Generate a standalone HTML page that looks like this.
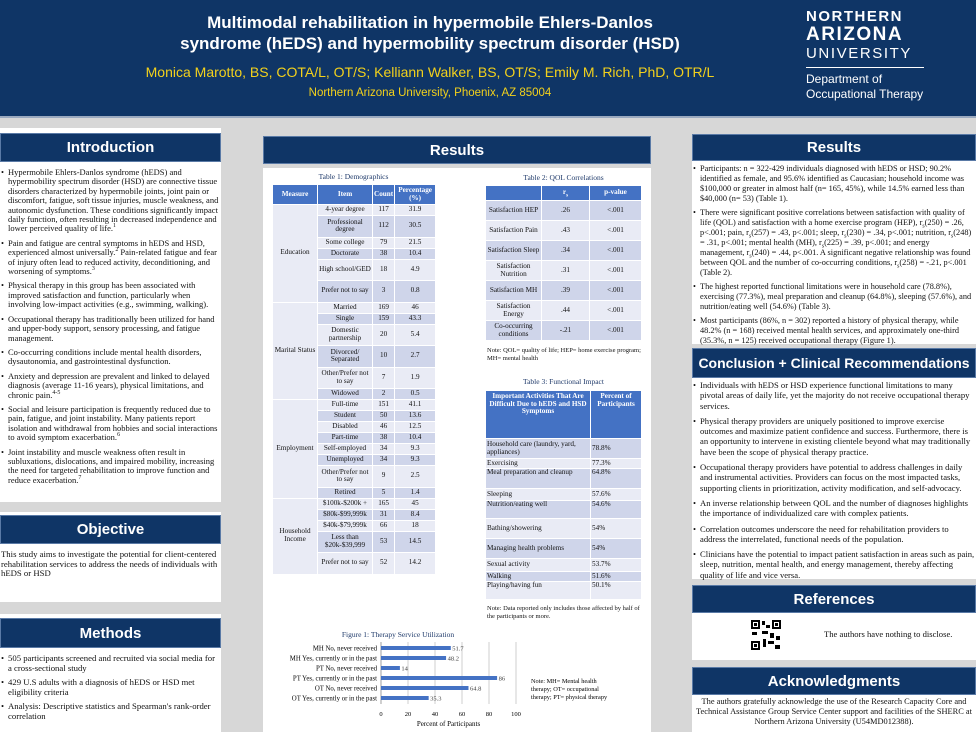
<!DOCTYPE html>
<html><head><meta charset="utf-8">
<style>
*{margin:0;padding:0;box-sizing:border-box}
body{width:976px;height:732px;overflow:hidden;background:#d7d7d7;position:relative;font-family:"Liberation Serif",serif;color:#111}
.abs{position:absolute}
.hdr{position:absolute;background:#0f3566;color:#fff;font-family:"Liberation Sans",sans-serif;font-weight:bold;font-size:15px;display:flex;align-items:center;justify-content:center;border:1px solid #5a7aa6;white-space:nowrap}
.panel{position:absolute;background:#fff}
ul{list-style:none}
li{position:relative;padding-left:7px;margin-bottom:5px}
li:before{content:"•";position:absolute;left:0;top:0}
sub,sup{line-height:0;font-size:70%}
.lt{font-size:8.5px;line-height:9.4px}
.rt{font-size:8.6px;line-height:10.3px}
table{border-collapse:collapse;font-family:"Liberation Serif",serif}
td,th{text-align:center;font-size:7.2px;line-height:7.6px;padding:0 1px;border:1px solid #fff}
th{background:#4472c4;color:#fff;font-weight:bold}
.a td{background:#e9ebf5}.b td{background:#cfd5ea}
td.m{background:#e9ebf5}
.cap{font-size:7.5px;color:#1f3a6a;text-align:center}
</style></head><body>
<div class="abs" style="left:0;top:0;width:976px;height:118px;background:#0f3566;border-bottom:2px solid #9aa9bf"></div>
<div class="abs" style="left:150px;top:12px;width:560px;text-align:center;color:#fff;font-family:'Liberation Sans',sans-serif;font-weight:bold;font-size:17px;line-height:21px">Multimodal rehabilitation in hypermobile Ehlers-Danlos<br>syndrome (hEDS) and hypermobility spectrum disorder (HSD)</div>
<div class="abs" style="left:100px;top:64px;width:660px;text-align:center;color:#f3d11c;font-family:'Liberation Sans',sans-serif;font-size:14px">Monica Marotto, BS, COTA/L, OT/S; Kelliann Walker, BS, OT/S; Emily M. Rich, PhD, OTR/L</div>
<div class="abs" style="left:150px;top:87px;width:560px;text-align:center;color:#f3d11c;font-family:'Liberation Sans',sans-serif;font-size:11.5px">Northern Arizona University, Phoenix, AZ 85004</div>
<div class="abs" style="left:806px;top:8px;width:170px;color:#fff;font-family:'Liberation Sans',sans-serif">
<div style="font-size:15px;font-weight:bold;letter-spacing:1.5px;line-height:17px">NORTHERN</div>
<div style="font-size:19px;font-weight:bold;letter-spacing:1.5px;line-height:20px">ARIZONA</div>
<div style="font-size:15px;letter-spacing:1.6px;line-height:17px">UNIVERSITY</div>
<div style="width:118px;border-top:1px solid #fff;margin:5px 0 4px"></div>
<div style="font-size:12px;line-height:15px">Department of<br>Occupational Therapy</div></div>

<!-- Left column -->
<div class="panel" style="left:0;top:128px;width:221px;height:374px"></div>
<div class="hdr" style="left:0;top:133px;width:221px;height:29px">Introduction</div>
<ul class="abs lt" style="left:1px;top:168px;width:219px">
<li>Hypermobile Ehlers-Danlos syndrome (hEDS) and hypermobility spectrum disorder (HSD) are connective tissue disorders characterized by hypermobile joints, joint pain or discomfort, fatigue, soft tissue injuries, muscle weakness, and autonomic dysfunction. These conditions significantly impact daily function, often resulting in decreased independence and lower perceived quality of life.<sup>1</sup></li>
<li>Pain and fatigue are central symptoms in hEDS and HSD, experienced almost universally.<sup>2</sup> Pain-related fatigue and fear of injury often lead to reduced activity, deconditioning, and worsening of symptoms.<sup>3</sup></li>
<li>Physical therapy in this group has been associated with improved satisfaction and function, particularly when involving low-impact activities (e.g., swimming, walking).</li>
<li>Occupational therapy has traditionally been utilized for hand and upper-body support, sensory processing, and fatigue management.</li>
<li>Co-occurring conditions include mental health disorders, dysautonomia, and gastrointestinal dysfunction.</li>
<li>Anxiety and depression are prevalent and linked to delayed diagnosis (average 11-16 years), physical limitations, and chronic pain.<sup>4-5</sup></li>
<li>Social and leisure participation is frequently reduced due to pain, fatigue, and joint instability. Many patients report isolation and withdrawal from hobbies and social interactions to avoid symptom exacerbation.<sup>6</sup></li>
<li>Joint instability and muscle weakness often result in subluxations, dislocations, and impaired mobility, increasing the need for targeted rehabilitation to improve function and reduce exacerbation.<sup>7</sup></li>
</ul>
<div class="panel" style="left:0;top:512px;width:221px;height:90px"></div>
<div class="hdr" style="left:0;top:515px;width:221px;height:29px">Objective</div>
<div class="abs lt" style="left:1px;top:550px;width:219px;font-size:8.7px;line-height:9.5px">This study aims to investigate the potential for client-centered rehabilitation services to address the needs of individuals with hEDS or HSD</div>
<div class="panel" style="left:0;top:614px;width:221px;height:118px"></div>
<div class="hdr" style="left:0;top:618px;width:221px;height:30px">Methods</div>
<ul class="abs lt" style="left:1px;top:654px;width:219px;font-size:8.7px;line-height:9.5px">
<li>505 participants screened and recruited via social media for a cross-sectional study</li>
<li>429 U.S adults with a diagnosis of hEDS or HSD met eligibility criteria</li>
<li>Analysis: Descriptive statistics and Spearman's rank-order correlation</li>
</ul>

<!-- Middle column -->
<div class="hdr" style="left:263px;top:136px;width:388px;height:28px">Results</div>
<div class="panel" style="left:263px;top:168px;width:388px;height:564px"></div>
<div class="abs cap" style="left:272px;top:172px;width:163px">Table 1: Demographics</div>
<table class="abs" style="left:272px;top:184px;width:164px">
<tr style="height:20px"><th style="width:45px">Measure</th><th style="width:55px">Item</th><th style="width:21px">Count</th><th>Percentage (%)</th></tr>
<tr class="a" style="height:11px"><td class="m" rowspan="6">Education</td><td>4-year degree</td><td>117</td><td>31.9</td></tr>
<tr class="b" style="height:21.5px"><td>Professional degree</td><td>112</td><td>30.5</td></tr>
<tr class="a" style="height:11px"><td>Some college</td><td>79</td><td>21.5</td></tr>
<tr class="b" style="height:11px"><td>Doctorate</td><td>38</td><td>10.4</td></tr>
<tr class="a" style="height:21.5px"><td>High school/GED</td><td>18</td><td>4.9</td></tr>
<tr class="b" style="height:21.5px"><td>Prefer not to say</td><td>3</td><td>0.8</td></tr>
<tr class="a" style="height:11px"><td class="m" rowspan="6">Marital Status</td><td>Married</td><td>169</td><td>46</td></tr>
<tr class="b" style="height:11px"><td>Single</td><td>159</td><td>43.3</td></tr>
<tr class="a" style="height:21.5px"><td>Domestic partnership</td><td>20</td><td>5.4</td></tr>
<tr class="b" style="height:21.5px"><td>Divorced/ Separated</td><td>10</td><td>2.7</td></tr>
<tr class="a" style="height:21.5px"><td>Other/Prefer not to say</td><td>7</td><td>1.9</td></tr>
<tr class="b" style="height:11px"><td>Widowed</td><td>2</td><td>0.5</td></tr>
<tr class="a" style="height:11px"><td class="m" rowspan="8">Employment</td><td>Full-time</td><td>151</td><td>41.1</td></tr>
<tr class="b" style="height:11px"><td>Student</td><td>50</td><td>13.6</td></tr>
<tr class="a" style="height:11px"><td>Disabled</td><td>46</td><td>12.5</td></tr>
<tr class="b" style="height:11px"><td>Part-time</td><td>38</td><td>10.4</td></tr>
<tr class="a" style="height:11px"><td>Self-employed</td><td>34</td><td>9.3</td></tr>
<tr class="b" style="height:11px"><td>Unemployed</td><td>34</td><td>9.3</td></tr>
<tr class="a" style="height:21.5px"><td>Other/Prefer not to say</td><td>9</td><td>2.5</td></tr>
<tr class="b" style="height:11px"><td>Retired</td><td>5</td><td>1.4</td></tr>
<tr class="a" style="height:11px"><td class="m" rowspan="5">Household Income</td><td>$100k-$200k +</td><td>165</td><td>45</td></tr>
<tr class="b" style="height:11px"><td>$80k-$99,999k</td><td>31</td><td>8.4</td></tr>
<tr class="a" style="height:11px"><td>$40k-$79,999k</td><td>66</td><td>18</td></tr>
<tr class="b" style="height:21.5px"><td>Less than $20k-$39,999</td><td>53</td><td>14.5</td></tr>
<tr class="a" style="height:21.5px"><td>Prefer not to say</td><td>52</td><td>14.2</td></tr>
</table>

<div class="abs cap" style="left:485px;top:173px;width:157px">Table 2: QOL Correlations</div>
<table class="abs" style="left:485px;top:185px;width:157px">
<tr style="height:15px"><th style="width:56px"></th><th style="width:48px">r<sub>s</sub></th><th>p-value</th></tr>
<tr class="b" style="height:20px"><td>Satisfaction HEP</td><td>.26</td><td>&lt;.001</td></tr>
<tr class="a" style="height:20px"><td>Satisfaction Pain</td><td>.43</td><td>&lt;.001</td></tr>
<tr class="b" style="height:20px"><td>Satisfaction Sleep</td><td>.34</td><td>&lt;.001</td></tr>
<tr class="a" style="height:20px"><td>Satisfaction Nutrition</td><td>.31</td><td>&lt;.001</td></tr>
<tr class="b" style="height:20px"><td>Satisfaction MH</td><td>.39</td><td>&lt;.001</td></tr>
<tr class="a" style="height:20px"><td>Satisfaction Energy</td><td>.44</td><td>&lt;.001</td></tr>
<tr class="b" style="height:20px"><td>Co-occurring conditions</td><td>-.21</td><td>&lt;.001</td></tr>
</table>
<div class="abs" style="left:487px;top:347px;width:160px;font-size:6.5px;line-height:8px">Note: QOL= quality of life; HEP= home exercise program; MH= mental health</div>

<div class="abs cap" style="left:485px;top:377px;width:157px">Table 3: Functional Impact</div>
<table class="abs" style="left:485px;top:390px;width:157px">
<tr style="height:48px"><th style="width:105px;vertical-align:top;padding-top:2px">Important Activities That Are Difficult Due to hEDS and HSD Symptoms</th><th style="vertical-align:top;padding-top:2px">Percent of Participants</th></tr>
<tr class="b" style="height:20px"><td style="text-align:left">Household care (laundry, yard, appliances)</td><td style="text-align:left">78.8%</td></tr>
<tr class="a" style="height:10px"><td style="text-align:left">Exercising</td><td style="text-align:left">77.3%</td></tr>
<tr class="b" style="height:20px"><td style="text-align:left;vertical-align:top">Meal preparation and cleanup</td><td style="text-align:left;vertical-align:top">64.8%</td></tr>
<tr class="a" style="height:12px"><td style="text-align:left">Sleeping</td><td style="text-align:left">57.6%</td></tr>
<tr class="b" style="height:18px"><td style="text-align:left;vertical-align:top">Nutrition/eating well</td><td style="text-align:left;vertical-align:top">54.6%</td></tr>
<tr class="a" style="height:20px"><td style="text-align:left">Bathing/showering</td><td style="text-align:left">54%</td></tr>
<tr class="b" style="height:20px"><td style="text-align:left">Managing health problems</td><td style="text-align:left">54%</td></tr>
<tr class="a" style="height:13px"><td style="text-align:left">Sexual activity</td><td style="text-align:left">53.7%</td></tr>
<tr class="b" style="height:10px"><td style="text-align:left">Walking</td><td style="text-align:left">51.6%</td></tr>
<tr class="a" style="height:18px"><td style="text-align:left;vertical-align:top">Playing/having fun</td><td style="text-align:left;vertical-align:top">50.1%</td></tr>
</table>
<div class="abs" style="left:487px;top:605px;width:160px;font-size:6.5px;line-height:8px">Note: Data reported only includes those affected by half of the participants or more.</div>

<svg class="abs" id="chart" style="left:263px;top:625px" width="387" height="107"></svg>

<!-- Right column -->
<div class="hdr" style="left:692px;top:134px;width:284px;height:27px">Results</div>
<div class="panel" style="left:692px;top:161px;width:284px;height:183px"></div>
<ul class="abs rt" style="left:693px;top:164px;width:282px;font-size:8.3px;line-height:10px">
<li style="margin-bottom:4px">Participants: n = 322-429 individuals diagnosed with hEDS or HSD; 90.2% identified as female, and 95.6% identified as Caucasian; household income was $100,000 or greater in almost half (n= 165, 45%), while 14.5% earned less than $40,000 (n= 53) (Table 1).</li>
<li style="margin-bottom:4px">There were significant positive correlations between satisfaction with quality of life (QOL) and satisfaction with a home exercise program (HEP), r<sub>s</sub>(250) = .26, p&lt;.001; pain, r<sub>s</sub>(257) = .43, p&lt;.001; sleep, r<sub>s</sub>(230) = .34, p&lt;.001; nutrition, r<sub>s</sub>(248) = .31, p&lt;.001; mental health (MH), r<sub>s</sub>(225) = .39, p&lt;.001; and energy management, r<sub>s</sub>(240) = .44, p&lt;.001. A significant negative relationship was found between QOL and the number of co-occurring conditions, r<sub>s</sub>(258) = -.21, p&lt;.001 (Table 2).</li>
<li style="margin-bottom:4px">The highest reported functional limitations were in household care (78.8%), exercising (77.3%), meal preparation and cleanup (64.8%), sleeping (57.6%), and nutrition/eating well (54.6%) (Table 3).</li>
<li>Most participants (86%, n = 302) reported a history of physical therapy, while 48.2% (n = 168) received mental health services, and approximately one-third (35.3%, n = 125) received occupational therapy (Figure 1).</li>
</ul>
<div class="hdr" style="left:692px;top:348px;width:284px;height:30px;font-size:14px">Conclusion + Clinical Recommendations</div>
<div class="panel" style="left:692px;top:378px;width:284px;height:201px"></div>
<ul class="abs rt" style="left:693px;top:380px;width:282px">
<li>Individuals with hEDS or HSD experience functional limitations to many pivotal areas of daily life, yet the majority do not receive occupational therapy services.</li>
<li>Physical therapy providers are uniquely positioned to improve exercise outcomes and maximize patient confidence and success. Furthermore, there is an opportunity to intervene in existing clientele beyond what may traditionally have been the scope of physical therapy practice.</li>
<li>Occupational therapy providers have potential to address challenges in daily and instrumental activities. Providers can focus on the most impacted tasks, supporting clients in prioritization, activity modification, and self-advocacy.</li>
<li>An inverse relationship between QOL and the number of diagnoses highlights the importance of individualized care with complex patients.</li>
<li>Correlation outcomes underscore the need for rehabilitation providers to address the interrelated, functional needs of the population.</li>
<li>Clinicians have the potential to impact patient satisfaction in areas such as pain, sleep, nutrition, mental health, and energy management, thereby affecting quality of life and vice versa.</li>
</ul>
<div class="hdr" style="left:692px;top:585px;width:284px;height:28px">References</div>
<div class="panel" style="left:692px;top:613px;width:284px;height:47px"></div>
<svg class="abs" style="left:750px;top:619px" width="32" height="32">
<rect width="32" height="32" fill="#fff"/>
<rect x="1" y="1" width="9" height="9" fill="#000"/><rect x="3" y="3" width="5" height="5" fill="#fff"/><rect x="4" y="4" width="3" height="3" fill="#000"/>
<rect x="22" y="1" width="9" height="9" fill="#000"/><rect x="24" y="3" width="5" height="5" fill="#fff"/><rect x="25" y="4" width="3" height="3" fill="#000"/>
<rect x="1" y="22" width="9" height="9" fill="#000"/><rect x="3" y="24" width="5" height="5" fill="#fff"/><rect x="4" y="25" width="3" height="3" fill="#000"/>
<rect x="12" y="2" width="3" height="4" fill="#000"/><rect x="16" y="6" width="4" height="3" fill="#000"/><rect x="12" y="12" width="6" height="3" fill="#000"/><rect x="20" y="14" width="4" height="5" fill="#000"/><rect x="2" y="13" width="5" height="3" fill="#000"/><rect x="13" y="20" width="3" height="8" fill="#000"/><rect x="18" y="22" width="6" height="3" fill="#000"/><rect x="25" y="26" width="5" height="4" fill="#000"/><rect x="26" y="17" width="4" height="4" fill="#000"/></svg>
<div class="abs" style="left:824px;top:629px;font-size:8.6px">The authors have nothing to disclose.</div>
<div class="hdr" style="left:692px;top:667px;width:284px;height:28px">Acknowledgments</div>
<div class="panel" style="left:692px;top:695px;width:284px;height:37px"></div>
<div class="abs" style="left:694px;top:697px;width:280px;text-align:center;font-size:8.4px;line-height:10px">The authors gratefully acknowledge the use of the Research Capacity Core and Technical Assistance Group Service Center support and facilities of the SHERC at Northern Arizona University (U54MD012388).</div>

<script>
const categories = ["MH No, never received","MH Yes, currently or in the past","PT No, never received","PT Yes, currently or in the past","OT No, never received","OT Yes, currently or in the past"];
const values = [51.7, 48.2, 14, 86, 64.8, 35.3];
const valueLabels = ["51.7","48.2","14","86","64.8","35.3"];
const xTicks = [0,20,40,60,80,100];
const svg = document.getElementById('chart');
const NS = 'http://www.w3.org/2000/svg';
const x0 = 118, x1 = 253, yTop = 17, rowH = 10;
const xs = v => x0 + (v / 100) * (x1 - x0);
const ys = i => yTop + 6 + i * rowH;
function mk(tag, attrs, text){const e=document.createElementNS(NS,tag);for(const k in attrs)e.setAttribute(k,attrs[k]);if(text!==undefined)e.textContent=text;svg.appendChild(e);return e;}
let t = mk('text',{x:135,y:12,'text-anchor':'middle','font-size':'7.5','fill':'#1f3a6a','font-family':'Liberation Serif'},'Figure 1: Therapy Service Utilization');


xTicks.forEach(v=>{
  const g = mk('line',{x1:xs(v),x2:xs(v),y1:yTop,y2:yTop+categories.length*rowH+2,stroke:v===0?'#888':'#bbb','stroke-width':v===0?0.8:0.7});
  
  
  const l = mk('text',{x:xs(v),y:91,'text-anchor':'middle','font-size':'6.5','font-family':'Liberation Serif'},String(v));
  
  
});
categories.forEach((c,i)=>{
  const lab = mk('text',{x:x0-4,y:ys(i)+2.5,'text-anchor':'end','font-size':'6.8','font-family':'Liberation Serif'},c);
  
  
  const b = mk('rect',{x:x0,y:ys(i)-2,width:xs(values[i])-x0,height:4,fill:'#4472c4'});
  
  
  const vl = mk('text',{x:xs(values[i])+1.5,y:ys(i)+2.5,'font-size':'6.5','fill':'#444','font-family':'Liberation Serif'},valueLabels[i]);
  
  
});
const at = mk('text',{x:(x0+x1)/2,y:101,'text-anchor':'middle','font-size':'7','font-family':'Liberation Serif'},'Percent of Participants');


const nt = mk('text',{x:268,y:58,'font-size':'6.3','font-family':'Liberation Serif'});


["Note: MH= Mental health","therapy; OT= occupational","therapy; PT= physical therapy"].forEach((s,i)=>{const ts=document.createElementNS(NS,'tspan');ts.setAttribute('x',268);ts.setAttribute('dy',i?8:0);ts.textContent=s;nt.appendChild(ts);});
</script>
</body></html>
